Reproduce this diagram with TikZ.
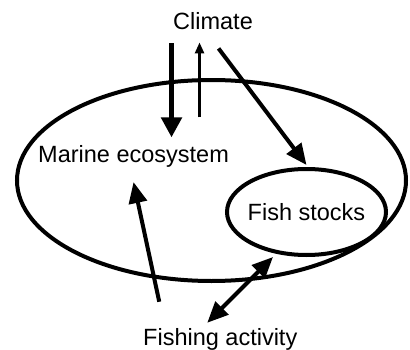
\documentclass[tikz,border=0pt]{standalone}
\usepackage{fontspec}
\setmainfont{Liberation Sans}
\usetikzlibrary{calc, shapes.geometric, arrows.meta}

\begin{document}
\begin{tikzpicture}[x=1pt, y=1pt,
    txt/.style={inner sep=0pt, anchor=base west, font=\fontsize{23.5}{27}\selectfont},
    ring/.style={draw, ellipse, line width=4pt, inner sep=0pt},
    fat/.style={line width=5pt, -{Triangle[length=20pt, width=20pt]}},
    slim/.style={line width=2.5pt, -{Triangle[length=11pt, width=9pt]}},
    link/.style={line width=4pt, -{Triangle[length=21pt, width=18pt]}},
    twoway/.style={line width=4pt, {Triangle[length=21pt, width=18pt]}-{Triangle[length=21pt, width=18pt]}}]
    \useasboundingbox (0,0) rectangle (410,349);

    % Ellipses
    \node[ring, minimum width=389pt, minimum height=201pt] (eco) at (211.5,168.5) {};
    \node[ring, minimum width=159pt, minimum height=86pt,
          label={[font=\fontsize{23.5}{27}\selectfont]center:Fish stocks}] (stocks) at (306.5,137) {};

    % Texts
    \node[txt] (clim) at (173,319) {Climate};
    \node[txt] (marine) at (38,187) {Marine ecosystem};
    \node[txt] (fishing) at (143,4) {Fishing activity};

    % Arrows from climate
    \draw[fat] ($(clim.south)+(-41.5,-13)$) -- ($(clim.south)+(-41.5,-107)$);
    \draw[slim] ($(clim.south)+(-13.5,-87)$) -- ($(clim.south)+(-13.5,-12)$);
    \draw[link] ($(clim.south)+(5.5,-18)$) -- ([yshift=2pt]stocks.north);

    % Arrows from fishing
    \draw[link] ($(fishing.north)+(-61,26)$) -- ([yshift=-15pt]marine.south);
    \draw[twoway] ($(fishing.north)+(-13,5)$) -- ([xshift=-33.5pt]stocks.south);
\end{tikzpicture}
\end{document}
